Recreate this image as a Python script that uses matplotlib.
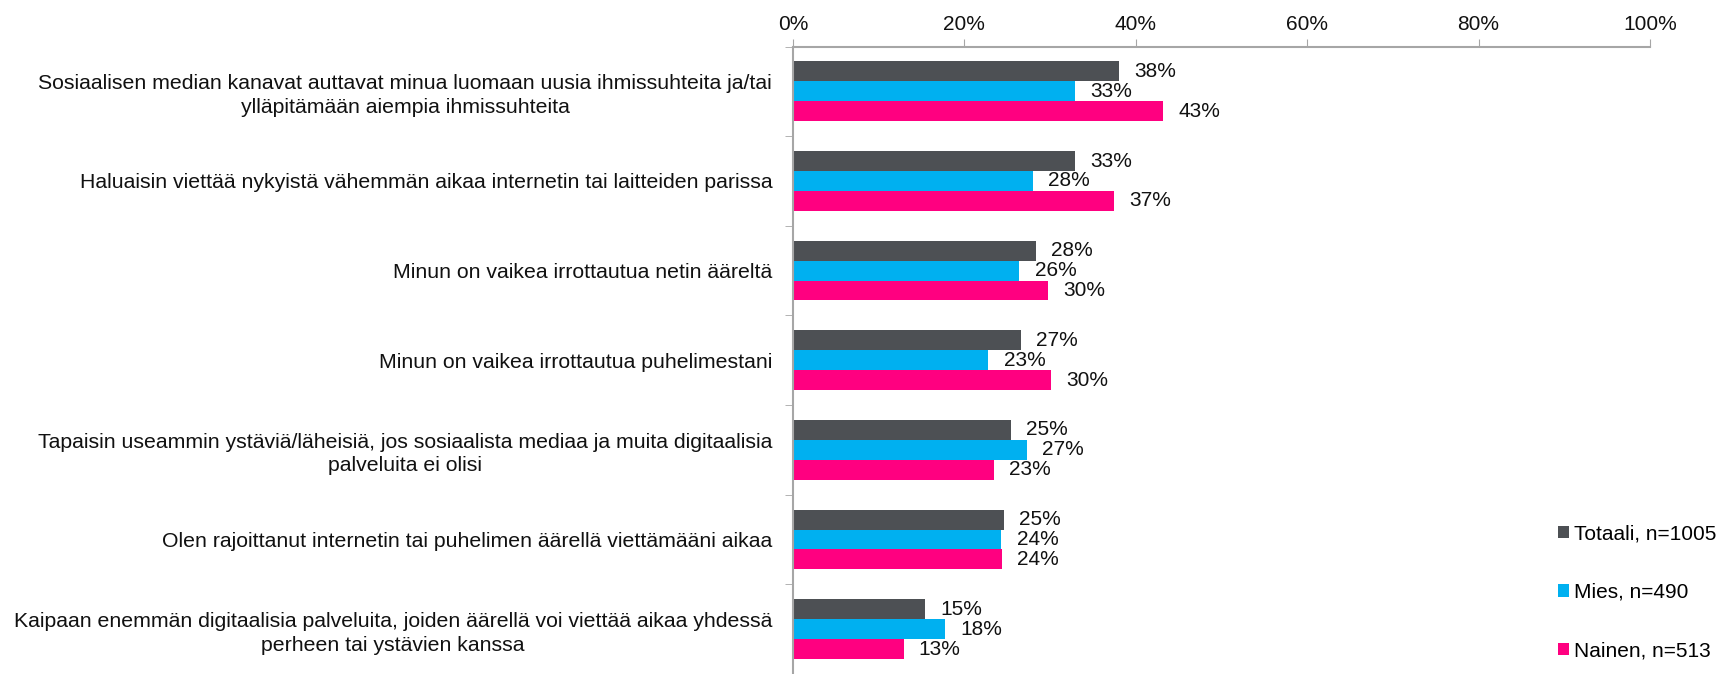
import numpy as np
import matplotlib.pyplot as plt
from matplotlib.ticker import PercentFormatter

plt.rcParams['font.family'] = ['Liberation Sans', 'DejaVu Sans']

categories = [
    "Sosiaalisen median kanavat auttavat minua luomaan uusia ihmissuhteita ja/tai\nylläpitämään aiempia ihmissuhteita",
    "Haluaisin viettää nykyistä vähemmän aikaa internetin tai laitteiden parissa",
    "Minun on vaikea irrottautua netin ääreltä",
    "Minun on vaikea irrottautua puhelimestani",
    "Tapaisin useammin ystäviä/läheisiä, jos sosiaalista mediaa ja muita digitaalisia\npalveluita ei olisi",
    "Olen rajoittanut internetin tai puhelimen äärellä viettämääni aikaa",
    "Kaipaan enemmän digitaalisia palveluita, joiden äärellä voi viettää aikaa yhdessä\nperheen tai ystävien kanssa",
]
series_names = ["Totaali, n=1005", "Mies, n=490", "Nainen, n=513"]
totaali = [38.0, 32.9, 28.3, 26.6, 25.4, 24.6, 15.4]
mies = [32.9, 28.0, 26.4, 22.8, 27.3, 24.3, 17.7]
nainen = [43.2, 37.4, 29.8, 30.1, 23.4, 24.4, 12.9]
colors = ["#4D5054", "#00B0F0", "#FF0080"]
axis_grey = "#A6A6A6"
fs = 15

fig = plt.figure(figsize=(17.21, 6.74), dpi=100)
ax = fig.add_axes([0.4608, 0.0, 0.4979, 0.931])

y = np.arange(len(categories))
h = 0.222
for k, (vals, col, name) in enumerate(zip([totaali, mies, nainen], colors, series_names)):
    pos = y + (k - 1) * h
    ax.barh(pos, vals, height=h, color=col, label=name)
    for p, v in zip(pos, vals):
        ax.annotate(f"{v:.0f}%", (v, p), xytext=(11, 0), textcoords="offset points",
                    va="center", ha="left", fontsize=fs, color="#111111")

ax.set_xlim(0, 100)
ax.set_ylim(len(categories) - 0.5, -0.5)
ax.xaxis.set_major_formatter(PercentFormatter(decimals=0))
ax.set_xticks(np.arange(0, 101, 20))
ax.xaxis.tick_top()
ax.tick_params(axis="x", direction="out", length=6, color=axis_grey, labelsize=fs,
               pad=3, labelcolor="#111111")

ax.set_yticks(y)
ax.set_yticklabels(categories, fontsize=15.3, color="#111111", linespacing=1.3)
for lab in ax.get_yticklabels():
    lab.set_multialignment("center")
ax.tick_params(axis="y", which="major", length=0, pad=15)
ax.set_yticks(np.arange(-0.5, len(categories)), minor=True)
ax.tick_params(axis="y", which="minor", length=6, color=axis_grey, direction="out")

for s in ["right", "bottom"]:
    ax.spines[s].set_visible(False)
for s in ["top", "left"]:
    ax.spines[s].set_color(axis_grey)
    ax.spines[s].set_linewidth(1.5)

fig.legend(loc="upper left", bbox_to_anchor=(0.905, 0.222), frameon=False,
           fontsize=fs, handlelength=0.53, handleheight=0.53, handletextpad=0.25,
           labelspacing=1.9, borderpad=0, borderaxespad=0)

fig.savefig("out.png", dpi=100)
